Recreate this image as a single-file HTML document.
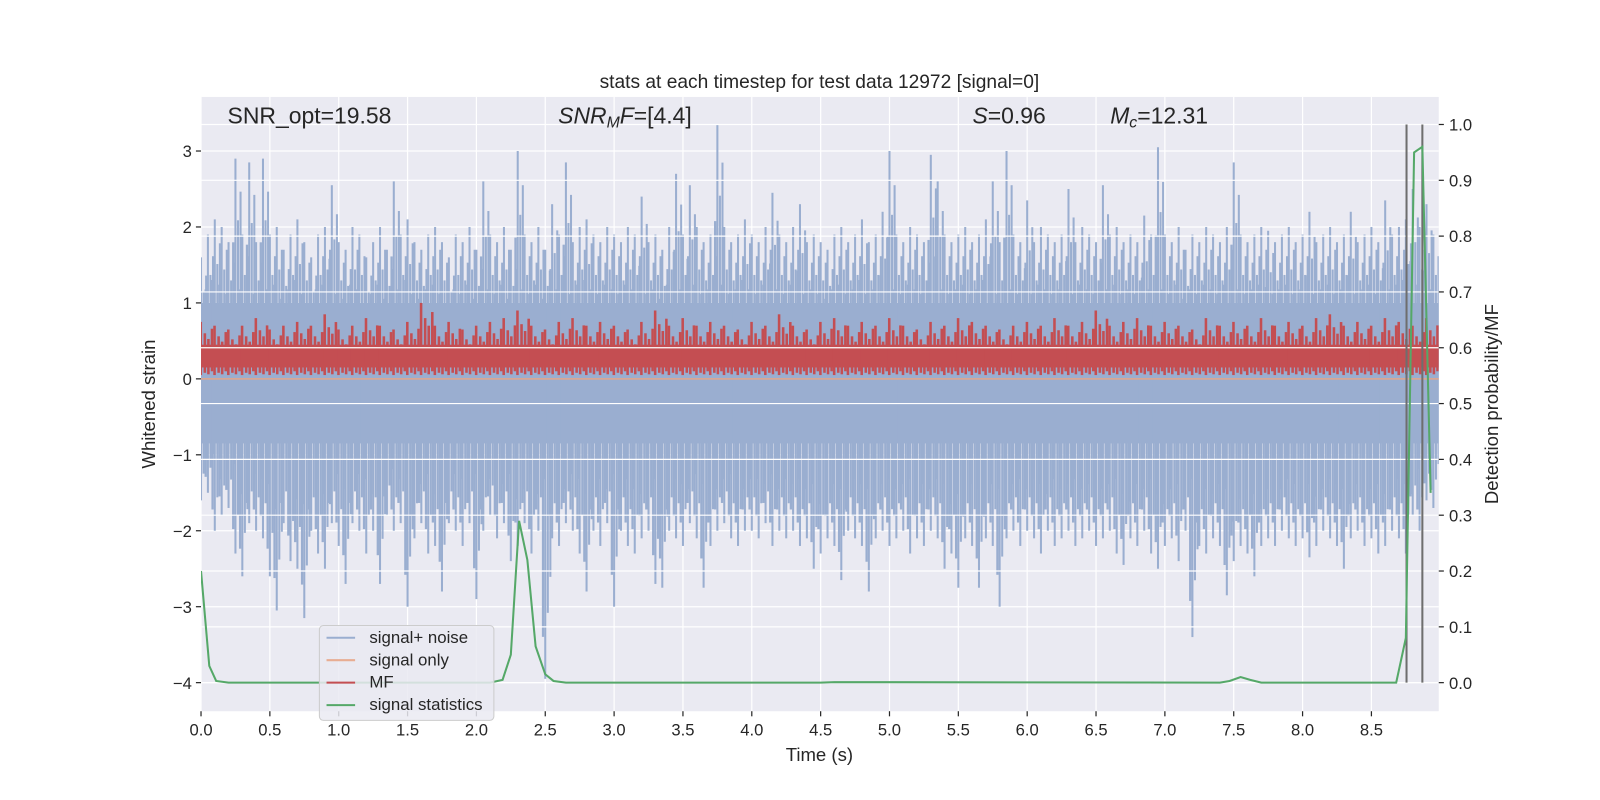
<!DOCTYPE html>
<html><head><meta charset="utf-8"><style>
html,body{margin:0;padding:0;background:#fff;width:1600px;height:800px;overflow:hidden;}
#wrap{position:relative;width:1600px;height:800px;overflow:hidden;transform:scale(1.0204);transform-origin:0 0;}
svg{position:absolute;left:0;top:0;font-family:"Liberation Sans","DejaVu Sans",sans-serif;}
</style></head><body>
<div id="wrap">
<svg id="chart" width="1600" height="800" xmlns="http://www.w3.org/2000/svg"></svg>
<svg width="1600" height="800" xmlns="http://www.w3.org/2000/svg" font-family="Liberation Sans, DejaVu Sans, sans-serif" fill="#262626">
<text x="803" y="86" text-anchor="middle" font-size="18.8">stats at each timestep for test data 12972 [signal=0]</text>
<text x="803" y="746" text-anchor="middle" font-size="18.2">Time (s)</text>
<text transform="translate(152,396) rotate(-90)" text-anchor="middle" font-size="18.2">Whitened strain</text>
<text transform="translate(1468,396) rotate(-90)" text-anchor="middle" font-size="18.2">Detection probability/MF</text>
<text x="223" y="121" font-size="22.5">SNR_opt=19.58</text>
<text x="547" y="121" font-size="22.5"><tspan font-style="italic">SNR</tspan><tspan font-style="italic" font-size="15.5" dy="4">M</tspan><tspan font-style="italic" dy="-4">F</tspan>=[4.4]</text>
<text x="953" y="121" font-size="22.5"><tspan font-style="italic">S</tspan>=0.96</text>
<text x="1088" y="121" font-size="22.5"><tspan font-style="italic">M</tspan><tspan font-style="italic" font-size="15.5" dy="4">c</tspan><tspan dy="-4">=12.31</tspan></text>
<g>
<rect x="313" y="613" width="171" height="93" rx="4" fill="#eaeaf2" fill-opacity="0.85" stroke="#cccccc"/>
<g><line x1="320" x2="348" y1="625" y2="625" stroke="#9aaed0" stroke-width="2"/><text x="362" y="630" font-size="16.5">signal+ noise</text></g>
<g><line x1="320" x2="348" y1="647" y2="647" stroke="#e8ad92" stroke-width="2"/><text x="362" y="652" font-size="16.5">signal only</text></g>
<g><line x1="320" x2="348" y1="669" y2="669" stroke="#c44e52" stroke-width="2"/><text x="362" y="674" font-size="16.5">MF</text></g>
<g><line x1="320" x2="348" y1="691" y2="691" stroke="#55a868" stroke-width="2"/><text x="362" y="696" font-size="16.5">signal statistics</text></g>
</g>
</svg>
</div>
<script>
// ---- data ----
const xTicks = [0,0.5,1,1.5,2,2.5,3,3.5,4,4.5,5,5.5,6,6.5,7,7.5,8,8.5];
const yTicks = [-4,-3,-2,-1,0,1,2,3];
const y2Ticks = [0,0.1,0.2,0.3,0.4,0.5,0.6,0.7,0.8,0.9,1.0];
const noiseStep = 0.05;
const noiseHi = [1.6,1.9,2.1,2.0,1.8,2.9,1.9,2.85,1.8,2.9,
1.9,2.0,1.7,1.9,2.1,1.8,1.6,1.9,2.0,2.55,
1.8,1.7,2.0,1.9,1.6,1.8,2.0,1.7,2.6,1.9,
2.1,1.8,1.7,1.9,2.0,1.8,1.6,1.9,1.8,2.0,
1.7,2.6,1.9,1.8,2.0,1.7,3.0,1.9,1.8,2.0,
1.7,2.3,1.9,2.85,1.8,2.0,2.1,1.9,1.8,2.0,
1.9,1.8,2.0,1.9,2.4,1.8,1.9,1.7,2.0,2.7,
1.9,2.55,2.0,1.8,1.9,3.35,2.0,1.8,1.9,2.1,
1.9,1.8,2.0,2.45,1.9,1.8,2.0,2.3,1.8,1.9,
1.8,1.7,1.9,2.0,1.8,1.9,2.1,1.8,1.9,2.2,
3.0,1.9,1.8,2.0,1.9,1.8,2.95,2.6,1.9,1.8,
1.9,2.0,1.8,1.9,2.1,2.6,1.8,3.0,1.9,1.8,
2.35,1.8,2.0,1.9,1.8,1.9,2.5,1.8,2.0,1.9,
1.8,2.55,1.9,2.0,1.8,1.9,1.8,2.15,1.9,3.05,
1.9,1.8,2.0,1.7,1.9,1.8,2.0,1.9,1.8,2.0,
2.85,1.9,1.8,1.9,2.0,1.95,1.8,1.9,2.0,1.8,
1.9,2.2,1.8,1.9,2.0,1.8,1.9,2.2,1.8,1.9,
2.0,1.8,2.35,1.9,2.0,2.1,2.5,2.0,2.3,1.9];
const noiseLo = [-1.6,-1.5,-2.0,-1.8,-1.7,-2.3,-2.6,-1.9,-2.0,-2.1,
-2.6,-3.05,-1.9,-2.4,-2.5,-3.15,-2.0,-2.3,-2.5,-1.9,
-2.2,-2.7,-1.9,-2.0,-2.3,-2.0,-2.7,-1.8,-2.0,-1.9,
-3.0,-2.1,-1.9,-2.3,-2.2,-2.8,-1.9,-2.0,-2.2,-1.9,
-2.9,-2.0,-1.8,-2.1,-1.9,-2.4,-2.2,-1.9,-2.3,-2.0,
-3.95,-2.1,-2.2,-1.9,-2.0,-2.3,-2.8,-2.0,-2.2,-1.9,
-3.0,-2.0,-2.2,-2.3,-2.1,-2.0,-2.7,-2.75,-2.0,-2.1,
-2.2,-1.9,-2.1,-2.75,-2.2,-2.0,-1.9,-2.1,-2.2,-2.0,
-2.0,-2.1,-1.9,-2.2,-2.0,-2.1,-2.0,-2.2,-2.1,-2.5,
-2.3,-2.1,-2.2,-2.65,-2.0,-2.1,-2.2,-2.8,-2.1,-2.0,
-2.2,-2.1,-2.0,-2.3,-2.1,-2.2,-2.0,-2.1,-2.5,-2.3,
-2.75,-2.1,-2.2,-2.75,-2.1,-2.2,-3.0,-2.1,-2.0,-2.2,
-2.0,-2.1,-2.3,-2.0,-2.2,-2.1,-2.0,-2.2,-2.1,-2.0,
-2.2,-2.1,-2.0,-2.3,-2.45,-2.1,-2.2,-2.0,-2.3,-2.5,
-2.2,-2.1,-2.4,-2.0,-3.4,-2.2,-2.3,-2.1,-2.2,-2.85,
-2.4,-2.2,-2.3,-2.6,-2.2,-2.1,-2.2,-2.0,-2.1,-2.2,
-2.1,-2.35,-2.2,-2.0,-2.1,-2.2,-2.5,-2.1,-2.0,-2.2,
-2.1,-2.3,-2.2,-2.0,-2.1,-2.3,-1.8,-2.0,-1.6,-1.7];
const mfStep = 0.1;
const mfHi = [0.75,0.7,0.65,0.7,0.8,0.65,0.7,0.75,0.7,0.85,
0.65,0.7,0.8,0.7,0.65,0.75,1.0,0.7,0.75,0.65,
0.7,0.75,0.8,0.9,0.7,0.65,0.75,0.8,0.7,0.75,
0.7,0.65,0.75,0.9,0.7,0.8,0.7,0.75,0.7,0.65,
0.75,0.7,0.85,0.7,0.65,0.75,0.8,0.7,0.75,0.7,
0.8,0.7,0.65,0.75,0.7,0.8,0.75,0.7,0.65,0.7,
0.75,0.7,0.8,0.7,0.75,0.9,0.7,0.75,0.8,0.7,
0.75,0.7,0.65,0.8,0.7,0.75,0.7,0.8,0.7,0.75,
0.7,0.8,0.85,0.7,0.75,0.7,0.8,0.75,0.7,0.8];
const gT = [0,0.06,0.11,0.2,2.1,2.19,2.25,2.31,2.37,2.43,2.5,2.56,2.65,4.5,4.6,7.4,7.47,7.55,7.62,7.7,8.68,8.75,8.81,8.87,8.93];
const gP = [0.2,0.03,0.003,0,0,0.005,0.05,0.29,0.22,0.065,0.015,0.003,0,0,0.001,0,0.003,0.01,0.005,0,0,0.08,0.95,0.96,0.34];
const vLines = [8.755,8.87];

// ---- axes ----
const L=197,R=1410,T=95,B=697;
const X = t => L + t*(1147/8.5);
const Y = v => 669 - (v+4)*(521/7);
const Y2 = p => 669 - p*547;
const svg = document.getElementById('chart');
const NS='http://www.w3.org/2000/svg';
function mk(tag, attrs, parent){const e=document.createElementNS(NS,tag);for(const k in attrs)e.setAttribute(k,attrs[k]);(parent||svg).appendChild(e);return e;}

const bg = mk('rect',{x:L,y:T,width:R-L,height:B-T,fill:'#eaeaf2'});



const grid = mk('g',{stroke:'#fff','stroke-width':1.2});


xTicks.forEach(t=>mk('line',{x1:X(t),x2:X(t),y1:T,y2:B},grid));
yTicks.forEach(v=>mk('line',{x1:L,x2:R,y1:Y(v),y2:Y(v)},grid));

// noise
const clip = mk('clipPath',{id:'pc'}); mk('rect',{x:L,y:T,width:R-L,height:B-T},clip);
const ng = mk('g',{fill:'#9aaed0','clip-path':'url(#pc)'});


mk('rect',{x:L,y:Y(1.0),width:R-L,height:Y(-0.85)-Y(1.0)},ng);
noiseHi.forEach((v,i)=>{
  const x=X(i*noiseStep);
  mk('rect',{x:x-1,y:Y(v),width:2,height:Y(0)-Y(v)},ng);
  mk('rect',{x:x+1.5,y:Y(v*0.72),width:2,height:Y(0)-Y(v*0.72)},ng);
  mk('rect',{x:x+4,y:Y(v*0.85),width:2,height:Y(0)-Y(v*0.85)},ng);
  mk('rect',{x:x-3.3,y:Y(v*0.62),width:2.3,height:Y(0)-Y(v*0.62)},ng);
});
noiseLo.forEach((v,i)=>{
  const x=X(i*noiseStep);
  mk('rect',{x:x-1,y:Y(0),width:2,height:Y(v)-Y(0)},ng);
  mk('rect',{x:x+1.5,y:Y(0),width:2,height:Y(v*0.78)-Y(0)},ng);
  mk('rect',{x:x+4,y:Y(0),width:2,height:Y(v*0.66)-Y(0)},ng);
  mk('rect',{x:x-3.3,y:Y(0),width:2.3,height:Y(v*0.86)-Y(0)},ng);
});
// signal only
const so = mk('line',{x1:L,x2:R,y1:Y(0),y2:Y(0),stroke:'#e3a58a','stroke-width':1.5});


// MF
const mg = mk('g',{fill:'#c44e52','clip-path':'url(#pc)'});


mk('rect',{x:L,y:Y(0.45),width:R-L,height:Y(0.15)-Y(0.45)},mg);
mfHi.forEach((v,i)=>{
  const x=X(i*mfStep);
  mk('rect',{x:x-1.5,y:Y(v),width:2.5,height:Y(0.05)-Y(v)},mg);
  mk('rect',{x:x+2.5,y:Y(v*0.8),width:2.5,height:Y(0.08)-Y(v*0.8)},mg);
  mk('rect',{x:x+6,y:Y(v*0.7),width:2.5,height:Y(0.06)-Y(v*0.7)},mg);
  mk('rect',{x:x+9.5,y:Y(v*0.88),width:2.5,height:Y(0.1)-Y(v*0.88)},mg);
});
// right grid on top
const g2 = mk('g',{stroke:'#fff','stroke-width':1.2});


y2Ticks.forEach(p=>mk('line',{x1:L,x2:R,y1:Y2(p),y2:Y2(p)},g2));
// vertical lines
vLines.forEach(t=>{
  const l=mk('line',{x1:X(t),x2:X(t),y1:Y2(1),y2:Y2(0),stroke:'#6e6e6e','stroke-width':2});
  
  
});
// green
const gl = mk('polyline',{points:gT.map((t,i)=>X(t)+','+Y2(gP[i])).join(' '),fill:'none',stroke:'#55a868','stroke-width':2,'clip-path':'url(#pc)'});



// ticks & labels
const tk = mk('g',{fill:'#262626','font-size':16.3});


xTicks.forEach(t=>{mk('line',{x1:X(t),x2:X(t),y1:B,y2:B+5,stroke:'#262626','stroke-width':1.2},tk);const e=mk('text',{x:X(t),y:B+24,'text-anchor':'middle'},tk);e.textContent=t.toFixed(1);});
yTicks.forEach(v=>{mk('line',{x1:L-5,x2:L,y1:Y(v),y2:Y(v),stroke:'#262626','stroke-width':1.2},tk);const e=mk('text',{x:L-9,y:Y(v)+6,'text-anchor':'end'},tk);e.textContent=(v<0?'\u2212'+(-v):v);});
y2Ticks.forEach(p=>{mk('line',{x1:R,x2:R+5,y1:Y2(p),y2:Y2(p),stroke:'#262626','stroke-width':1.2},tk);const e=mk('text',{x:R+10,y:Y2(p)+6},tk);e.textContent=p.toFixed(1);});
</script>
</body></html>
